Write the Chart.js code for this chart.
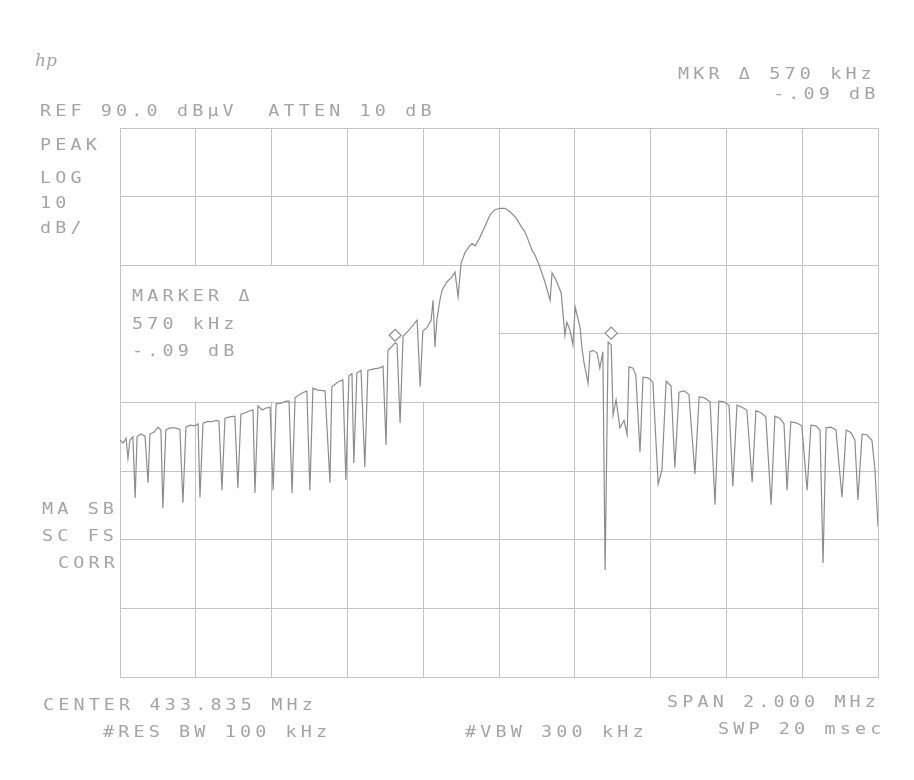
<!DOCTYPE html>
<html>
<head>
<meta charset="utf-8">
<script src="https://cdn.jsdelivr.net/npm/chart.js@4.4.1/dist/chart.umd.min.js"></script>
<style>
  body { margin: 0; background: #fff; }
  #wrap { position: relative; width: 914px; height: 780px; overflow: hidden; }
  canvas { position: absolute; left: 0; top: 0; }
  .t {
    position: absolute;
    font-family: "DejaVu Sans Mono", monospace;
    font-size: 16px;
    line-height: 16px;
    letter-spacing: 3.6px;
    color: #a4a4a4;
    white-space: pre;
    transform: scaleX(1.15);
    transform-origin: 0 0;
  }
  .hp { font-family: "DejaVu Serif", serif; font-style: italic; letter-spacing: 0; font-size: 17px; transform: none; }
</style>
</head>
<body>
<div id="wrap">
  <canvas id="sa" width="914" height="780"></canvas>
  <div class="t hp" style="left:35px; top:52px;">hp</div>
  <div class="t" style="left:40px; top:103px;">REF 90.0 dBµV  ATTEN 10 dB</div>
  <div class="t" style="left:678px; top:66px;">MKR Δ 570 kHz</div>
  <div class="t" style="left:773px; top:86px;">-.09 dB</div>
  <div class="t" style="left:40px; top:137px;">PEAK</div>
  <div class="t" style="left:40px; top:170px;">LOG</div>
  <div class="t" style="left:40px; top:195px;">10</div>
  <div class="t" style="left:40px; top:220px;">dB/</div>
  <div class="t" style="left:132px; top:288px;">MARKER Δ</div>
  <div class="t" style="left:132px; top:316px;">570 kHz</div>
  <div class="t" style="left:132px; top:343px;">-.09 dB</div>
  <div class="t" style="left:42px; top:501px;">MA SB</div>
  <div class="t" style="left:42px; top:528px;">SC FS</div>
  <div class="t" style="left:58px; top:555px;">CORR</div>
  <div class="t" style="left:43px; top:697px;">CENTER 433.835 MHz</div>
  <div class="t" style="left:103px; top:724px;">#RES BW 100 kHz</div>
  <div class="t" style="left:465px; top:724px;">#VBW 300 kHz</div>
  <div class="t" style="left:667px; top:694px;">SPAN 2.000 MHz</div>
  <div class="t" style="left:718px; top:721px;">SWP 20 msec</div>
</div>
<script>
// frequency offset from center (kHz) and level (dBuV)
const freqKHz = [
  -1000, -992, -984, -979, -974, -966, -960, -955, -945, -934,
  -926, -921, -910, -900, -892, -887, -879, -868, -855, -842,
  -834, -826, -815, -802, -794, -789, -781, -770, -757, -747,
  -739, -731, -723, -710, -697, -689, -681, -670, -657, -649,
  -644, -636, -625, -615, -604, -596, -588, -575, -562, -554,
  -546, -538, -525, -515, -507, -499, -491, -478, -459, -446,
  -441, -425, -412, -404, -396, -388, -383, -375, -364, -354,
  -346, -330, -317, -306, -298, -293, -282, -274, -269, -261,
  -253, -245, -232, -216, -208, -201, -190, -179, -174, -169,
  -164, -156, -150, -137, -124, -116, -108, -100, -90, -79,
  -71, -63, -50, -37, -24, -11, 3, 16, 29, 45,
  58, 69, 77, 87, 95, 108, 121, 135, 140, 150,
  164, 174, 179, 187, 195, 201, 208, 214, 219, 224,
  235, 240, 248, 259, 266, 274, 280, 288, 296, 301,
  309, 319, 330, 338, 343, 354, 361, 372, 380, 393,
  406, 420, 430, 441, 454, 464, 475, 488, 501, 517,
  528, 541, 557, 570, 580, 594, 607, 617, 628, 641,
  654, 668, 678, 691, 704, 718, 728, 741, 752, 760,
  770, 786, 799, 813, 823, 836, 847, 855, 863, 876,
  889, 905, 916, 929, 939, 947, 958, 971, 984, 992,
  1000
];
const levelDb = [
  44.5, 44.1, 44.8, 41.9, 44.5, 45.0, 36.1, 45.0, 45.4, 45.1,
  38.3, 45.4, 45.7, 46.4, 46.0, 34.6, 46.0, 46.3, 46.3, 46.1,
  35.4, 46.4, 46.7, 46.6, 46.9, 36.2, 47.0, 47.2, 47.2, 47.4,
  47.3, 37.2, 47.7, 47.9, 48.0, 37.5, 48.3, 48.5, 48.8, 48.9,
  36.8, 49.5, 48.9, 49.2, 49.3, 37.2, 49.8, 49.9, 50.2, 50.2,
  36.8, 50.7, 51.2, 51.5, 51.7, 37.2, 52.1, 51.8, 51.7, 38.3,
  52.3, 53.0, 53.3, 38.7, 53.9, 54.2, 41.2, 54.3, 54.7, 40.6,
  54.7, 54.9, 55.0, 55.3, 43.8, 57.6, 58.2, 58.7, 58.5, 47.0,
  59.7, 60.1, 60.9, 62.0, 52.3, 60.4, 60.9, 62.0, 64.9, 58.1,
  62.0, 64.9, 66.4, 67.6, 68.3, 69.0, 65.4, 70.3, 71.8, 72.7,
  73.2, 72.8, 74.1, 75.7, 77.3, 78.1, 78.3, 78.3, 77.8, 76.9,
  75.7, 74.8, 73.7, 72.2, 71.5, 69.7, 67.6, 64.9, 68.9, 67.9,
  66.0, 59.8, 61.7, 60.6, 58.4, 63.9, 62.3, 60.9, 57.9, 55.9,
  52.8, 57.4, 57.6, 57.2, 55.0, 57.4, 25.6, 58.8, 58.4, 48.2,
  50.4, 46.3, 47.4, 45.3, 55.2, 55.0, 54.0, 42.8, 53.7, 53.6,
  53.0, 38.1, 40.2, 53.1, 52.4, 40.5, 51.5, 51.7, 51.2, 39.6,
  50.8, 50.7, 50.1, 35.1, 50.2, 50.1, 49.6, 37.8, 49.6, 49.3,
  48.9, 38.4, 48.8, 48.5, 47.9, 35.1, 48.0, 47.7, 46.9, 37.2,
  47.2, 47.0, 46.6, 37.2, 46.7, 46.6, 46.0, 26.6, 46.3, 46.4,
  46.0, 36.2, 46.0, 45.6, 44.5, 35.8, 45.4, 45.3, 44.5, 40.2,
  31.9
];
// delta marker pair (reference and active)
const markerKHz = [-274, 296];
const markerDb = [59.8, 60.1];

const traceColor = '#8c8c8c';
const gridColor = '#c4c4c4';

// the analyzer blanks the graticule behind the MARKER annotation
const blankGrid = {
  id: 'blankGrid',
  beforeDatasetsDraw(chart) {
    const { ctx, scales: { x, y } } = chart;
    const x0 = x.getPixelForValue(-1000) + 1;
    const x1 = x.getPixelForValue(0) - 1;
    const y0 = y.getPixelForValue(70) + 1;
    const y1 = y.getPixelForValue(50) - 1;
    ctx.save();
    ctx.fillStyle = '#fff';
    ctx.fillRect(x0, y0, x1 - x0, y1 - y0);
    ctx.restore();
  }
};

new Chart(document.getElementById('sa').getContext('2d'), {
  type: 'scatter',
  data: {
    datasets: [
      {
        data: freqKHz.map((f, i) => ({ x: f, y: levelDb[i] })),
        showLine: true,
        borderColor: traceColor,
        borderWidth: 1.2,
        pointRadius: 0,
        tension: 0
      },
      {
        data: markerKHz.map((f, i) => ({ x: f, y: markerDb[i] })),
        showLine: false,
        pointStyle: 'rectRot',
        pointRadius: 6,
        pointBorderWidth: 1.2,
        pointBorderColor: traceColor,
        pointBackgroundColor: '#fff'
      }
    ]
  },
  options: {
    responsive: false,
    animation: false,
    devicePixelRatio: 1,
    layout: { padding: { left: 120, right: 36, top: 128, bottom: 103 } },
    plugins: { legend: { display: false }, tooltip: { enabled: false } },
    scales: {
      x: {
        type: 'linear', min: -1000, max: 1000,
        ticks: { display: false, stepSize: 200 },
        grid: { color: gridColor, lineWidth: 1, drawTicks: false },
        border: { display: true, color: gridColor }
      },
      y: {
        type: 'linear', min: 10, max: 90,
        ticks: { display: false, stepSize: 10 },
        grid: { color: gridColor, lineWidth: 1, drawTicks: false },
        border: { display: true, color: gridColor }
      }
    }
  },
  plugins: [blankGrid]
});
</script>
</body>
</html>
